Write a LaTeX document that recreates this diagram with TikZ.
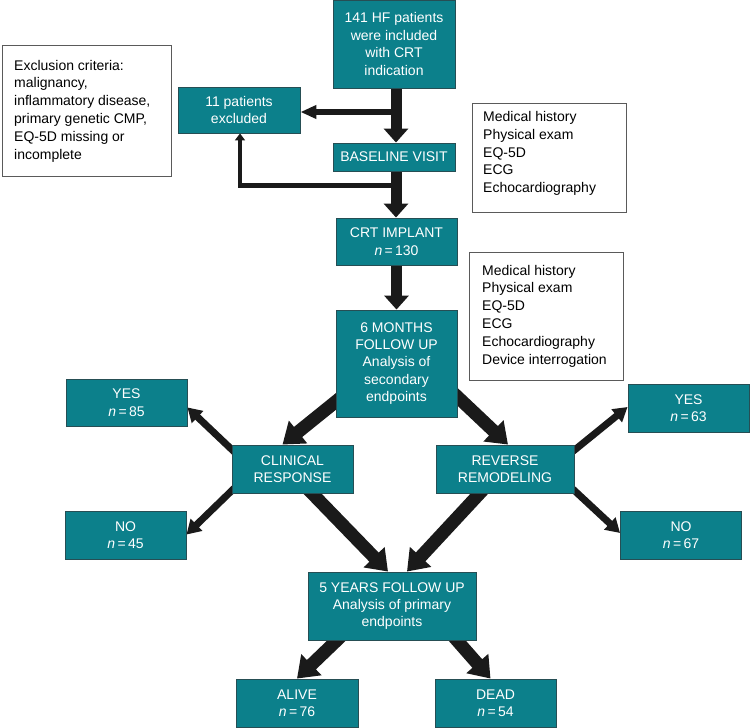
\documentclass[tikz,border=0pt]{standalone}
\usepackage{fontspec}
\setmainfont{Liberation Sans}
\usetikzlibrary{arrows.meta,calc,backgrounds}
\definecolor{tealfill}{RGB}{12,128,139}
\definecolor{tealdark}{RGB}{38,78,84}
\definecolor{arrowblack}{RGB}{26,26,26}
\definecolor{notegray}{RGB}{90,90,90}
\begin{document}
\begin{tikzpicture}[x=1pt,y=-1pt,
  tbox/.style={draw=tealdark, fill=tealfill, line width=0.9pt, text=white, align=center,
    inner sep=0pt, font=\fontsize{14}{17.4}\selectfont},
  notebox/.style={draw=notegray, fill=white, line width=1pt, inner sep=0pt},
  notetext/.style={align=left, inner sep=0pt, text=black, font=\fontsize{14}{17.8}\selectfont},
  bigarr/.style={draw=arrowblack, line width=11pt, -{Triangle[width=24pt,length=14pt]}},
  diagarr/.style={draw=arrowblack, line width=13pt, -{Triangle[width=28pt,length=20pt]}},
  smallarr/.style={draw=arrowblack, line width=7pt, -{Triangle[width=16pt,length=14pt]}},
  sidearr/.style={draw=arrowblack, line width=5.5pt, -{Triangle[width=13pt,length=16pt]}},
  backarr/.style={draw=arrowblack, line width=4.5pt, -{Triangle[width=10pt,length=7pt]}}
]
\useasboundingbox (0,0) rectangle (750,728);

% teal boxes
\node[tbox, minimum width=122, minimum height=88] (top) at (394,44) {141 HF patients\\were included\\with CRT\\indication};
\node[tbox, minimum width=122, minimum height=46] (ex11) at (239,110) {11 patients\\excluded};
\node[tbox, minimum width=122, minimum height=28] (base) at (394,157) {BASELINE VISIT};
\node[tbox, minimum width=121, minimum height=47] (crt) at (396.5,241.5) {CRT IMPLANT\\\textit{n}\,=\,130};
\node[tbox, minimum width=121, minimum height=107] (six) at (396.5,363.5) {6 MONTHS\\FOLLOW UP\\Analysis of\\secondary\\endpoints};
\node[tbox, minimum width=121, minimum height=47] (yesL) at (126.5,402.5) {YES\\\textit{n}\,=\,85};
\node[tbox, minimum width=121, minimum height=48] (noL) at (125.5,535) {NO\\\textit{n}\,=\,45};
\node[tbox, minimum width=121, minimum height=48] (clin) at (292.5,469) {CLINICAL\\RESPONSE};
\node[tbox, minimum width=138, minimum height=48] (rev) at (505,469) {REVERSE\\REMODELING};
\node[tbox, minimum width=121, minimum height=48] (yesR) at (688.5,408) {YES\\\textit{n}\,=\,63};
\node[tbox, minimum width=121, minimum height=48] (noR) at (681,535) {NO\\\textit{n}\,=\,67};
\node[tbox, minimum width=168, minimum height=68] (five) at (392,606) {5 YEARS FOLLOW UP\\Analysis of primary\\endpoints};
\node[tbox, minimum width=122, minimum height=48] (alive) at (297,703) {ALIVE\\\textit{n}\,=\,76};
\node[tbox, minimum width=121, minimum height=48] (dead) at (495.5,703) {DEAD\\\textit{n}\,=\,54};

% note boxes
\node[notebox, minimum width=169, minimum height=131] (exclbox) at (86.5,110.5) {};
\node[notetext, anchor=west] (excltext) at (14,111) {Exclusion criteria:\\malignancy,\\inflammatory disease,\\primary genetic CMP,\\EQ-5D missing or\\incomplete};
\node[notebox, minimum width=154, minimum height=109] (med1box) at (549,157.5) {};
\node[notetext, anchor=west] (med1text) at (483,153.5) {Medical history\\Physical exam\\EQ-5D\\ECG\\Echocardiography};
\node[notebox, minimum width=154, minimum height=128] (med2box) at (546,316) {};
\node[notetext, anchor=west] (med2text) at (482,316) {Medical history\\Physical exam\\EQ-5D\\ECG\\Echocardiography\\Device interrogation};

% connectors
\begin{scope}[on background layer]
  \draw[bigarr] ($(top.south)+(2,0)$) -- ($(base.north)+(2,0)$);
  \draw[sidearr] ($(top.south)+(2,24)$) |- ($(ex11.east)+(0,2)$);
  \draw[backarr] ($(base.south)+(2,14)$) -| ($(ex11.south)+(1,0)$);
  \draw[bigarr] ($(base.south)+(2,0)$) -- ($(crt.north)+(-0.5,0)$);
  \draw[bigarr] (crt.south) -- (six.north);
  \draw[diagarr] ($(six.south west)+(14,-27)$) -- ($(clin.north)+(-10,0)$);
  \draw[diagarr] ($(six.south east)+(-12,-32)$) -- ($(rev.north)+(3,0)$);
  \draw[smallarr] ($(clin.west)+(6,-14)$) -- ($(yesL.south east)+(0,-19)$);
  \draw[smallarr] ($(clin.west)+(6,16)$) -- ($(noL.north east)+(0,24)$);
  \draw[smallarr] ($(rev.east)+(-6,-14)$) -- ($(yesR.west)+(0,-1)$);
  \draw[smallarr] ($(rev.east)+(-6,16)$) -- ($(noR.west)+(0,-2)$);
  \draw[diagarr] ($(clin.south)+(12,-8)$) -- ($(five.north)+(-4,0)$);
  \draw[diagarr] ($(rev.south)+(-18,-8)$) -- ($(five.north)+(15,0)$);
  \draw[diagarr] ($(five.south)+(-47,-8)$) -- (alive.north);
  \draw[diagarr] ($(five.south)+(58,-8)$) -- ($(dead.north)+(-5,0)$);
\end{scope}
\end{tikzpicture}
\end{document}
